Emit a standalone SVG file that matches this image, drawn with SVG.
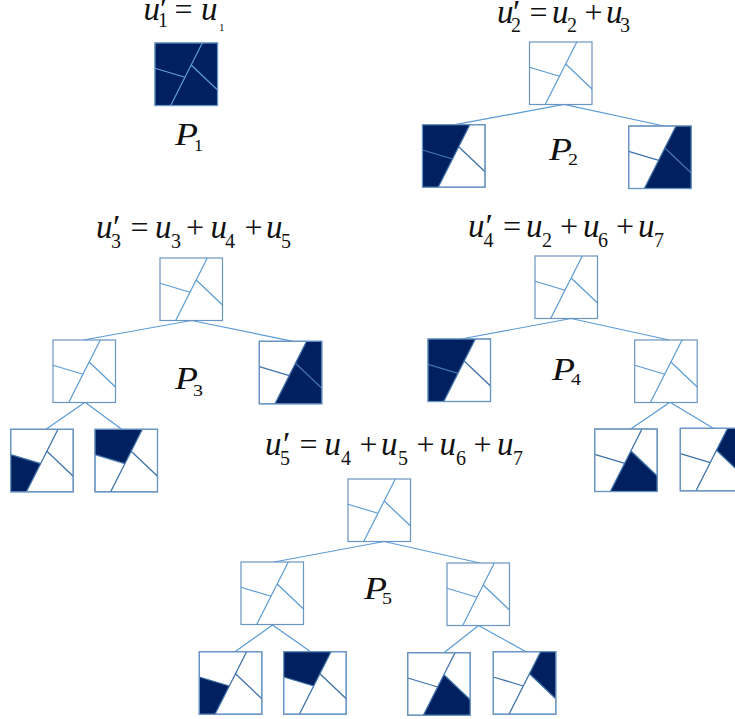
<svg xmlns="http://www.w3.org/2000/svg" width="735" height="719" viewBox="0 0 735 719">
<style>
.f{fill:#fff;stroke:#6a94c2;stroke-width:1.2}
.s{fill:#002060;stroke:none}
.l{fill:none;stroke:#5b9bd5;stroke-width:1.2}
.d{fill:none;stroke:#3f72a8;stroke-width:1.3}
.c{fill:none;stroke:#5b9bd5;stroke-width:1.2}
text{font-family:"Liberation Serif","Times New Roman",serif;fill:#111}
.v{font-size:33px;font-style:italic}
.o{font-size:32px}
.b{font-size:20px}
.m{font-size:34px}
.p{font-size:31px;font-style:italic}
.q{font-size:17px}
</style>
<defs>
<path id="tl" class="s" d="M0 0H47.3L30 34.3L0 25.3Z"/>
<path id="bl" class="s" d="M0 25.3L30 34.3L15.7 62.5H0Z"/>
<path id="tr" class="s" d="M47.3 0H62.5V47L36.2 22Z"/>
<path id="br" class="s" d="M36.2 22L62.5 47V62.5H15.7Z"/>
<rect id="fr" class="f" width="62.5" height="62.5"/>
<path id="ln" class="l" d="M47.3 0L15.7 62.5M0 25.3L30 34.3M36.2 22L62.5 47"/>
<path id="dk" class="d" d="M47.3 0L15.7 62.5M0 25.3L30 34.3M36.2 22L62.5 47"/>
<rect id="ol" fill="none" stroke="#6a94c2" stroke-width="1.2" width="62.5" height="62.5"/>
</defs>
<g id="connectors">
<path class="c" d="M455 124.7L564 104.3L664 126"/>
<path class="c" d="M83.3 340L191.5 320.5L293.3 341.3"/>
<path class="c" d="M46 429.3L85 402.3L121.7 429.3"/>
<path class="c" d="M461 339L571 318.5L669.3 340"/>
<path class="c" d="M630.7 429L670 402.3L713.3 428.3"/>
<path class="c" d="M274 562L384 541.5L480 563"/>
<path class="c" d="M235 651.7L272.5 625L310.7 651.7"/>
<path class="c" d="M444 652.7L478.5 625.5L526 651.7"/>
</g>
<g id="p1-root" transform="translate(155 43)"><use href="#fr"/><use href="#tl"/><use href="#bl"/><use href="#tr"/><use href="#br"/><use href="#ln"/><use href="#ol"/></g>
<g id="p2-root" transform="translate(529.5 42)"><use href="#fr"/><use href="#ln"/></g>
<g id="p2-left" transform="translate(422.5 124.7)"><use href="#fr"/><use href="#tl"/><use href="#bl"/><use href="#dk"/><use href="#ol"/></g>
<g id="p2-right" transform="translate(628.7 126)"><use href="#fr"/><use href="#tr"/><use href="#br"/><use href="#dk"/><use href="#ol"/></g>
<g id="p3-root" transform="translate(160 258)"><use href="#fr"/><use href="#ln"/></g>
<g id="p3-mid" transform="translate(53 340)"><use href="#fr"/><use href="#ln"/></g>
<g id="p3-right" transform="translate(259.3 341.3)"><use href="#fr"/><use href="#tr"/><use href="#br"/><use href="#dk"/><use href="#ol"/></g>
<g id="p3-leaf1" transform="translate(10.7 429.3)"><use href="#fr"/><use href="#bl"/><use href="#dk"/><use href="#ol"/></g>
<g id="p3-leaf2" transform="translate(95 429.3)"><use href="#fr"/><use href="#tl"/><use href="#dk"/><use href="#ol"/></g>
<g id="p4-root" transform="translate(535 256)"><use href="#fr"/><use href="#ln"/></g>
<g id="p4-left" transform="translate(428 339)"><use href="#fr"/><use href="#tl"/><use href="#bl"/><use href="#dk"/><use href="#ol"/></g>
<g id="p4-mid" transform="translate(634.7 340)"><use href="#fr"/><use href="#ln"/></g>
<g id="p4-leaf1" transform="translate(594.7 429)"><use href="#fr"/><use href="#br"/><use href="#dk"/><use href="#ol"/></g>
<g id="p4-leaf2" transform="translate(680.3 428.3)"><use href="#fr"/><use href="#tr"/><use href="#dk"/><use href="#ol"/></g>
<g id="p5-root" transform="translate(348 479)"><use href="#fr"/><use href="#ln"/></g>
<g id="p5-mid1" transform="translate(241 562)"><use href="#fr"/><use href="#ln"/></g>
<g id="p5-mid2" transform="translate(447 563)"><use href="#fr"/><use href="#ln"/></g>
<g id="p5-leaf1" transform="translate(199.3 651.7)"><use href="#fr"/><use href="#bl"/><use href="#dk"/><use href="#ol"/></g>
<g id="p5-leaf2" transform="translate(283.7 651.7)"><use href="#fr"/><use href="#tl"/><use href="#dk"/><use href="#ol"/></g>
<g id="p5-leaf3" transform="translate(407.7 652.7)"><use href="#fr"/><use href="#br"/><use href="#dk"/><use href="#ol"/></g>
<g id="p5-leaf4" transform="translate(493.3 651.7)"><use href="#fr"/><use href="#tr"/><use href="#dk"/><use href="#ol"/></g>
<g id="labels">
<text x="143.5" y="20" class="v">u</text><text x="160" y="20" class="m">′</text><text x="158" y="27" class="b">1</text><text x="174.5" y="20" class="o">=</text><text x="201" y="20" class="v">u</text><text x="219" y="31" font-size="11">1</text>
<text x="497" y="23" class="v">u</text><text x="513" y="23" class="m">′</text><text x="511" y="32" class="b">2</text><text x="529.5" y="23" class="o">=</text><text x="552" y="23" class="v">u</text><text x="567" y="32" class="b">2</text><text x="584.5" y="23" class="o">+</text><text x="606" y="23" class="v">u</text><text x="620" y="32" class="b">3</text>
<text x="96" y="238" class="v">u</text><text x="113" y="238" class="m">′</text><text x="111" y="248" class="b">3</text><text x="130.5" y="238" class="o">=</text><text x="155" y="238" class="v">u</text><text x="171" y="248" class="b">3</text><text x="186" y="238" class="o">+</text><text x="210.5" y="238" class="v">u</text><text x="225" y="248" class="b">4</text><text x="244.5" y="238" class="o">+</text><text x="266" y="238" class="v">u</text><text x="281" y="248" class="b">5</text>
<text x="468" y="237" class="v">u</text><text x="485.5" y="237" class="m">′</text><text x="483.5" y="247" class="b">4</text><text x="503" y="237" class="o">=</text><text x="526" y="237" class="v">u</text><text x="542" y="247" class="b">2</text><text x="560" y="237" class="o">+</text><text x="583" y="237" class="v">u</text><text x="598" y="247" class="b">6</text><text x="616" y="237" class="o">+</text><text x="638" y="237" class="v">u</text><text x="654" y="247" class="b">7</text>
<text x="265" y="455" class="v">u</text><text x="283" y="455" class="m">′</text><text x="280" y="465" class="b">5</text><text x="299.5" y="455" class="o">=</text><text x="324.5" y="455" class="v">u</text><text x="341" y="465" class="b">4</text><text x="359.5" y="455" class="o">+</text><text x="381" y="455" class="v">u</text><text x="398" y="465" class="b">5</text><text x="416.5" y="455" class="o">+</text><text x="439.5" y="455" class="v">u</text><text x="456" y="465" class="b">6</text><text x="473.5" y="455" class="o">+</text><text x="497" y="455" class="v">u</text><text x="513" y="465" class="b">7</text>
<text x="175" y="145" class="p" textLength="23" lengthAdjust="spacingAndGlyphs">P</text><text x="194" y="151" class="q" textLength="9" lengthAdjust="spacingAndGlyphs">1</text>
<text x="549" y="160" class="p" textLength="23" lengthAdjust="spacingAndGlyphs">P</text><text x="568" y="165" class="q" textLength="10" lengthAdjust="spacingAndGlyphs">2</text>
<text x="175" y="389" class="p" textLength="23" lengthAdjust="spacingAndGlyphs">P</text><text x="193" y="396" class="q" textLength="10" lengthAdjust="spacingAndGlyphs">3</text>
<text x="552" y="380" class="p" textLength="23" lengthAdjust="spacingAndGlyphs">P</text><text x="571" y="385" class="q" textLength="10" lengthAdjust="spacingAndGlyphs">4</text>
<text x="364" y="599" class="p" textLength="23" lengthAdjust="spacingAndGlyphs">P</text><text x="382" y="604" class="q" textLength="10" lengthAdjust="spacingAndGlyphs">5</text>
</g>
</svg>
